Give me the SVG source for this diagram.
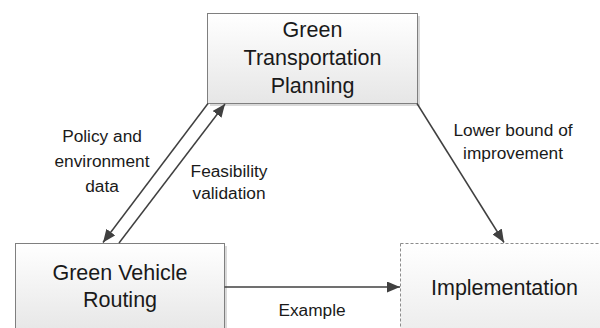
<svg xmlns="http://www.w3.org/2000/svg" width="600" height="328" viewBox="0 0 600 328">
<style>
.box{stroke:#7f7f7f;stroke-width:1;fill:url(#g)}
.dash{stroke:#8c8c8c;stroke-width:1;stroke-dasharray:3,2;fill:url(#g2)}
.shadow{fill:#d9d9d9}
.bt{font-family:"Liberation Sans",Arial,sans-serif;font-size:21.5px;fill:#1a1a1a;text-anchor:middle}
.lt{font-family:"Liberation Sans",Arial,sans-serif;font-size:17.3px;fill:#1a1a1a;text-anchor:middle}
.c{stroke:#404040;stroke-width:1.5;fill:none;marker-end:url(#ah)}
</style>
<defs>
<linearGradient id="g" x1="0" y1="0" x2="0" y2="1">
<stop offset="0" stop-color="#ffffff"/>
<stop offset="1" stop-color="#e6e6e6"/>
</linearGradient>
<linearGradient id="g2" x1="0" y1="0" x2="0" y2="1">
<stop offset="0" stop-color="#ffffff"/>
<stop offset="1" stop-color="#ececec"/>
</linearGradient>
<marker id="ah" markerUnits="userSpaceOnUse" markerWidth="14" markerHeight="11" refX="13" refY="5.5" orient="auto">
<path d="M0,0 L13,5.5 L0,11 Z" fill="#404040"/>
</marker>
</defs>
<rect width="600" height="328" fill="#ffffff"/>
<g id="node-planning">
<rect class="shadow" x="210" y="16" width="210" height="90"/>
<rect class="box" x="207.5" y="13.5" width="210" height="90"/>
<text class="bt" x="312.5" y="37">Green</text>
<text class="bt" x="312.5" y="65">Transportation</text>
<text class="bt" x="312.5" y="92.5">Planning</text>
</g>
<g id="node-routing">
<rect class="shadow" x="18" y="246" width="209" height="90"/>
<rect class="box" x="15.5" y="243.5" width="209" height="90"/>
<text class="bt" x="120" y="280">Green Vehicle</text>
<text class="bt" x="120" y="307">Routing</text>
</g>
<g id="node-implementation">
<rect class="dash" x="400.5" y="243.5" width="209" height="90"/>
<text class="bt" x="504.5" y="295">Implementation</text>
</g>
<g id="connectors">
<line class="c" x1="208" y1="103.5" x2="103" y2="242.5"/>
<line class="c" x1="119" y1="243" x2="225" y2="104"/>
<line class="c" x1="417" y1="103.5" x2="504" y2="242.5"/>
<line class="c" x1="224.5" y1="287" x2="400" y2="287"/>
</g>
<g id="labels">
<text class="lt" x="102" y="141.5">Policy and</text>
<text class="lt" x="102" y="166.5">environment</text>
<text class="lt" x="102" y="191.5">data</text>
<text class="lt" x="229" y="176.5">Feasibility</text>
<text class="lt" x="229" y="198.5">validation</text>
<text class="lt" x="513" y="136">Lower bound of</text>
<text class="lt" x="513" y="159">improvement</text>
<text class="lt" x="312" y="316">Example</text>
</g>
</svg>
